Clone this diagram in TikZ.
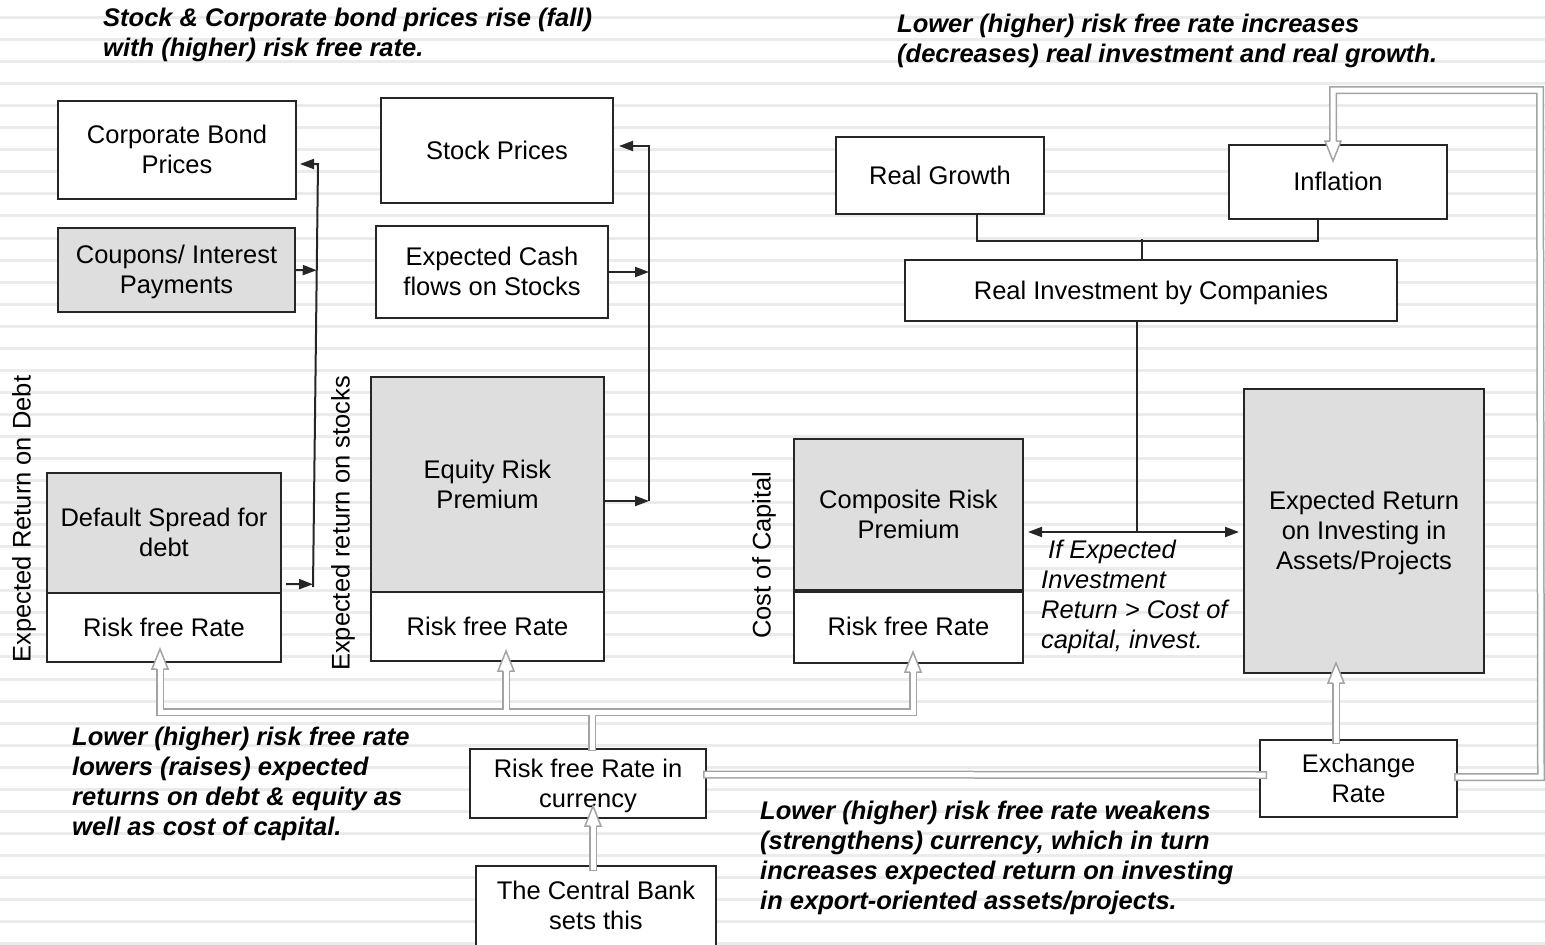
\documentclass[tikz,border=0pt]{standalone}
\usepackage{fontspec}
\setmainfont{Liberation Sans}
\usetikzlibrary{arrows.meta,calc}
\definecolor{boxline}{HTML}{262626}
\definecolor{shade}{HTML}{DEDEDE}
\definecolor{stripe}{HTML}{EBEBEB}
\definecolor{hollowline}{HTML}{A3A3A3}
% strut that fixes line height and visual centre of each text line
\newcommand\lstrut{\rule[-6.5pt]{0pt}{30pt}}
% hollow arrow head: #1 tip coordinate, #2 = 1 points up, -1 points down
\newcommand\hhead[2]{%
  \fill[white] ($(#1)+(-8,{20*(#2)})$) -- (#1) -- ($(#1)+(8,{20*(#2)})$) -- cycle;
  \draw[draw=hollowline, line width=1.5pt]
    ($(#1)+(-3.25,{20*(#2)})$) -- ($(#1)+(-8,{20*(#2)})$) -- (#1)
    -- ($(#1)+(8,{20*(#2)})$) -- ($(#1)+(3.25,{20*(#2)})$);
}
% hollow (outlined) connectors; drawn twice: grey outline, then white core
\newcommand\hollownet{%
  \draw[hpass] ($(tD)+(0,20)$) -- (hl) -- (hr) -- ($(tC)+(0,20)$);
  \draw[hpass] (hm) -- ($(tS)+(0,20)$);
  \draw[hpass,hstart] ($(rfcur.north)+(4,3)$) -- (hub);
  \draw[hpass,hstart] ($(cb.north)+(-3,6)$) -- ($(tB)+(0,20)$);
  \draw[hpass,hstart,hend] ($(rfcur.east)+(-4,-9)$) -- ($(ex.west)+(8,-3.5)$);
  \draw[hpass,hstart] ($(tE |- ex.north)+(0,5)$) -- ($(tE)+(0,20)$);
  \draw[hpass,hstart] ($(ex.east)+(-4,-1.5)$) -- (rc1) -- (rc2) -- (rc3) -- ($(tI)+(0,-20)$);
}
\begin{document}
\begin{tikzpicture}[x=1pt,y=-1pt,
  every node/.style={font=\fontsize{25.5}{30}\selectfont},
  box/.style={draw=boxline, line width=2pt, fill=white, align=center, inner sep=0pt},
  shaded/.style={box, fill=shade},
  note/.style={anchor=north west, align=left, inner sep=0pt,
    font=\fontsize{25.5}{30}\selectfont\bfseries\itshape},
  conn/.style={draw=boxline, line width=2pt},
  arr/.style={-{Triangle[length=14pt,width=10pt]}},
  darr/.style={{Triangle[length=14pt,width=10pt]}-{Triangle[length=14pt,width=10pt]}}]

\useasboundingbox (0,0) rectangle (1545,945);
\clip (0,0) rectangle (1545,945);
\fill[white] (0,0) rectangle (1545,945);
% ruled paper background
\foreach \k in {0,...,42}
  \draw[stripe, line width=3pt] (0,{17.5+22.05*\k}) -- (1545,{17.5+22.05*\k});

% bonds
\node[box, minimum width=238, minimum height=98] (cbp) at (177,150) {Corporate Bond\lstrut\\Prices\lstrut};
\node[shaded, minimum width=237, minimum height=84] (cip) at (176.5,270) {Coupons/ Interest\lstrut\\Payments\lstrut};
\node[shaded, minimum width=234, minimum height=120] (dsd) at (164,533) {Default Spread for\lstrut\\debt\lstrut};
\node[box, minimum width=234, minimum height=69] (rfd) at (164,627.5) {Risk free Rate\lstrut};

% stocks
\node[box, minimum width=232, minimum height=105] (sp) at (497,150.5) {Stock Prices\lstrut};
\node[box, minimum width=232, minimum height=92] (ecf) at (492,272) {Expected Cash\lstrut\\flows on Stocks\lstrut};
\node[shaded, minimum width=233, minimum height=215] (erp) at (487.5,484.5) {Equity Risk\lstrut\\Premium\lstrut};
\node[box, minimum width=233, minimum height=69] (rfs) at (487.5,626.5) {Risk free Rate\lstrut};

% cost of capital
\node[shaded, minimum width=229, minimum height=151] (crp) at (908.5,514.5) {Composite Risk\lstrut\\Premium\lstrut};
\node[box, minimum width=229, minimum height=73] (rfc) at (908.5,626.5) {Risk free Rate\lstrut};
\draw[boxline, line width=3.5pt] (crp.south west) -- (crp.south east);

% real economy
\node[box, minimum width=208, minimum height=77] (rg) at (940,175.5) {Real Growth\lstrut};
\node[box, minimum width=218, minimum height=74] (inf) at (1338,182) {Inflation\lstrut};
\node[box, minimum width=492, minimum height=61] (rib) at (1151,290.5) {Real Investment by Companies\lstrut};
\node[shaded, minimum width=240, minimum height=284] (ero) at (1364,531) {Expected Return\lstrut\\on Investing in\lstrut\\Assets/Projects\lstrut};

% rate setting and currency
\node[box, minimum width=236, minimum height=69] (rfcur) at (588,783.5) {Risk free Rate in\lstrut\\currency\lstrut};
\node[box, minimum width=240, minimum height=80] (cb) at (596,906) {The Central Bank\lstrut\\sets this\lstrut};
\node[box, minimum width=197, minimum height=77] (ex) at (1358.5,778.5) {Exchange\lstrut\\Rate\lstrut};

% side labels
\node[rotate=90] (lDebt) at (24,519) {Expected Return on Debt};
\node[rotate=90] (lStock) at (343,523.5) {Expected return on stocks};
\node[rotate=90] (lCap) at (764,555) {Cost of Capital};

% bond price feedback line
\coordinate (dtop) at (318,164);
\coordinate (dbot) at (313,587);
\coordinate (dsa) at ($(dsd.south east)+(4,-10)$);
\draw[conn,arr] (dbot) -- (dtop) -- ($(cbp.east|-dtop)+(3,0)$);
\draw[conn,arr] (cip.east) -- ($(dtop)!(cip.east)!(dbot)$);
\draw[conn,arr] (dsa) -- ($(dtop)!(dsa)!(dbot)$);

% stock price feedback line
\coordinate (stop) at (649,146);
\coordinate (sbot) at (649,501);
\draw[conn,arr] (sbot) -- (stop) -- ($(sp.east|-stop)+(5,0)$);
\draw[conn,arr] (ecf.east) -- (ecf.east -| stop);
\draw[conn,arr] (erp.east |- sbot) -- (sbot);

% growth / inflation tree and investment decision
\coordinate (tj) at ($(rib.north)+(-9,-20)$);
\draw[conn] ($(rg.south)+(37,0)$) -- ++(0,26) -| ($(inf.south)+(-20,0)$);
\draw[conn] (tj) -- (tj |- rib.north);
\coordinate (dj) at ($(rib.south)+(-14,210)$);
\draw[conn] (rib.south -| dj) -- (dj);
\draw[conn,darr] ($(crp.east|-dj)+(4,0)$) -- ($(ero.west|-dj)+(-4,0)$);

% hollow connectors from the risk free rate
\coordinate (hub) at ($(rfcur.north)+(4,-36)$);
\coordinate (tD) at ($(rfd.south)+(-4,-14)$);
\coordinate (tS) at ($(rfs.south)+(18.5,-11)$);
\coordinate (tC) at ($(rfc.south)+(4.5,-12)$);
\coordinate (hl) at (tD |- hub);
\coordinate (hr) at (tC |- hub);
\coordinate (hm) at (tS |- hub);
\coordinate (tB) at ($(rfcur.south)+(5,-13)$);
\coordinate (tE) at ($(ero.south)+(-28,-11)$);
\coordinate (tI) at ($(inf.north)+(-5,17)$);
\coordinate (rc1) at ($(ex.east)+(83,-1.5)$);
\coordinate (rc2) at ($(tI)+(207,-71)$);
\coordinate (rc3) at (tI |- rc2);

\begin{scope}[hpass/.style={draw=hollowline, line width=8pt}, hstart/.style={}, hend/.style={}]
  \hollownet
\end{scope}
\begin{scope}[hpass/.style={draw=white, line width=5pt},
  hstart/.style={shorten <=1.5pt}, hend/.style={shorten >=1.5pt}]
  \hollownet
\end{scope}
\hhead{tD}{1}
\hhead{tS}{1}
\hhead{tC}{1}
\hhead{tB}{1}
\hhead{tE}{1}
\hhead{tI}{-1}

% commentary
\node[note] (n1) at (103,3) {Stock \& Corporate bond prices rise (fall)\lstrut\\with (higher) risk free rate.\lstrut};
\node[note] (n2) at (897,9) {Lower (higher) risk free rate increases\lstrut\\(decreases) real investment and real growth.\lstrut};
\node[note] (n3) at (72,722) {Lower (higher) risk free rate\lstrut\\lowers (raises) expected\lstrut\\returns on debt \& equity as\lstrut\\well as cost of capital.\lstrut};
\node[note] (n4) at (760,796) {Lower (higher) risk free rate weakens\lstrut\\(strengthens) currency, which in turn\lstrut\\increases expected return on investing\lstrut\\in export-oriented assets/projects.\lstrut};
\node[note, font=\fontsize{25.5}{30}\selectfont\itshape] (n5) at (1041,535) {\hspace*{7pt}If Expected\lstrut\\Investment\lstrut\\Return > Cost of\lstrut\\capital, invest.\lstrut};
\end{tikzpicture}
\end{document}
